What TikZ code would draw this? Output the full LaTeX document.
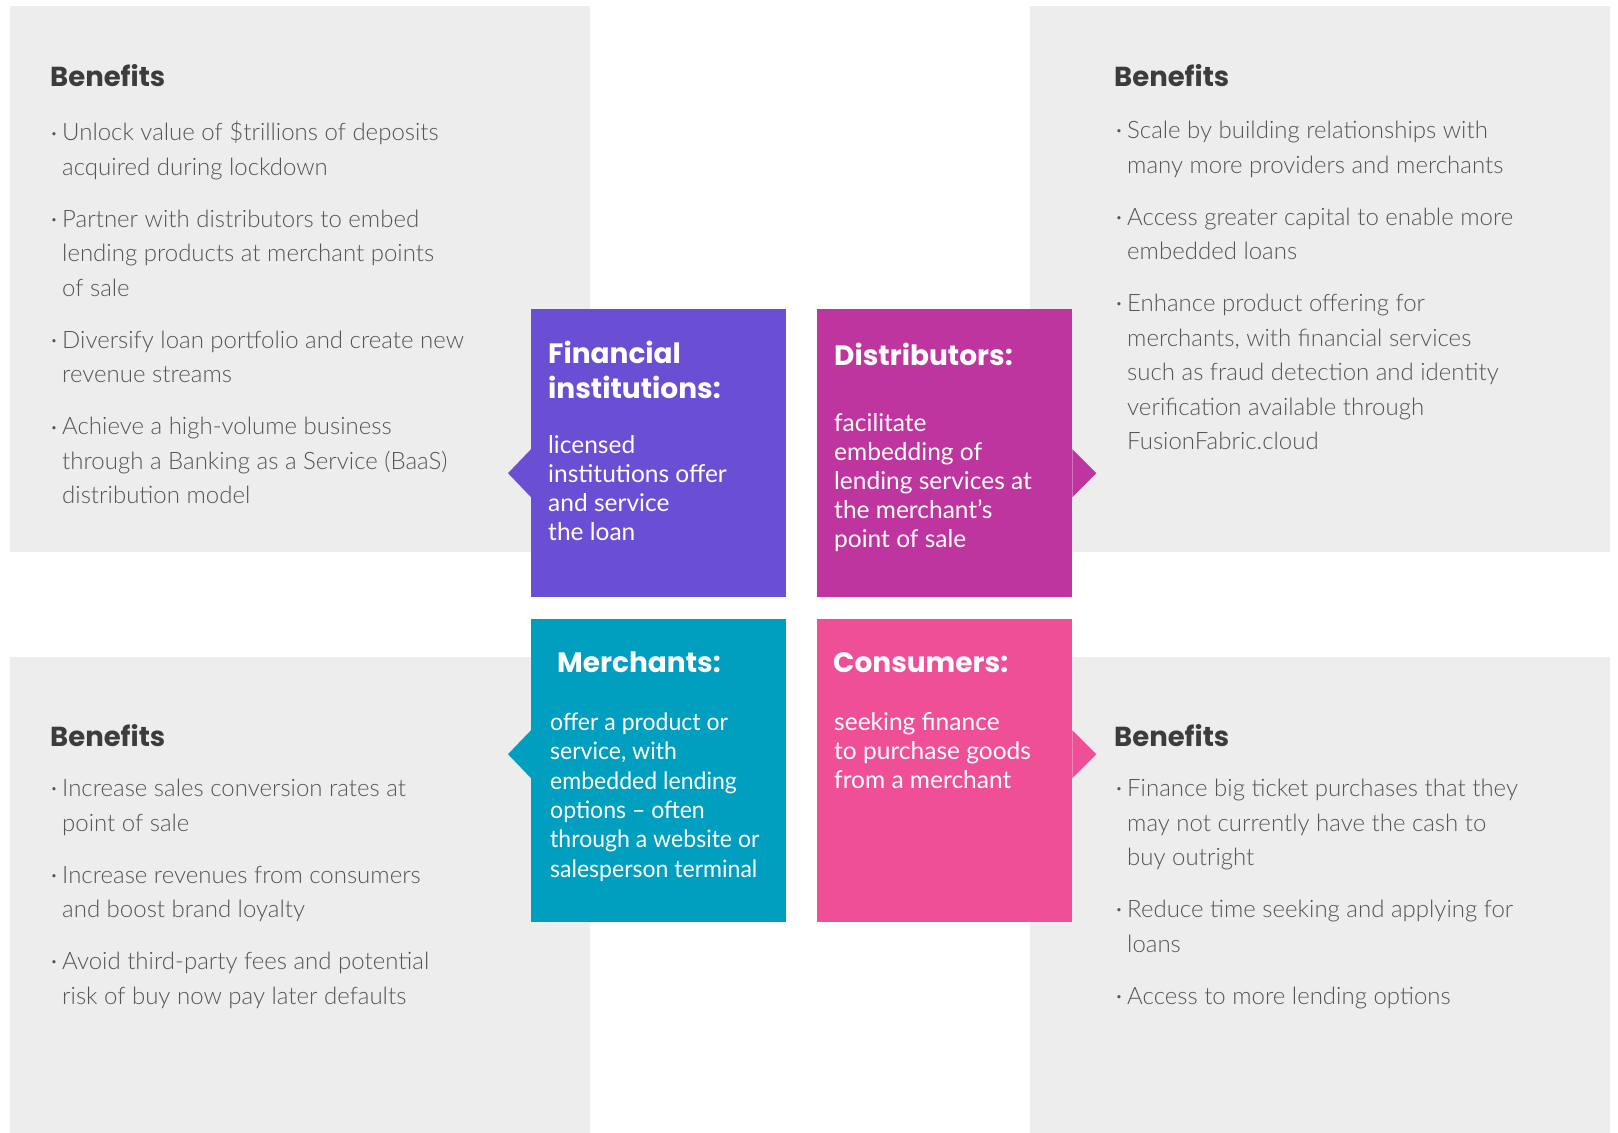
\documentclass[tikz,border=0pt]{standalone}
\usepackage{fontspec}
\usepackage{tikz}
\usetikzlibrary{positioning}
\setmainfont{Lato}
\newfontfamily\headfont{Poppins}
\newfontfamily\bodyfont{Lato Light}
\newfontfamily\condfont{Lato}[FakeStretch=0.96]

\definecolor{panelgrey}{HTML}{EDEDED}
\definecolor{headgrey}{HTML}{3C3C3C}
\definecolor{bodygrey}{HTML}{555555}
\definecolor{fincol}{HTML}{6A4FD4}
\definecolor{distcol}{HTML}{BF359F}
\definecolor{merchcol}{HTML}{009EBF}
\definecolor{conscol}{HTML}{EF4F96}

% small bullet hung left of each benefit
\newcommand{\itemdot}{\llap{\raisebox{0.3ex}{\fontsize{11}{11}\selectfont\textbullet}\hspace{5pt}}}

\begin{document}
\begin{tikzpicture}[%
    x=1pt,
    y=-1pt,
    panel/.style={%
      fill=panelgrey,
      inner sep=0pt,
      anchor=north west,
      minimum width=580pt
    },
    tile/.style={%
      inner sep=0pt,
      anchor=north west,
      minimum width=255pt
    },
    benhead/.style={%
      font=\headfont\bfseries\fontsize{27.5}{35}\selectfont,
      text=headgrey,
      inner sep=0pt,
      anchor=base west
    },
    benlist/.style={%
      font=\bodyfont\fontsize{24}{34.5}\selectfont,
      text=bodygrey,
      align=left,
      inner sep=0pt,
      anchor=north west,
      execute at begin node=\strut
    },
    tilehead/.style={%
      font=\headfont\bfseries\fontsize{28}{35}\selectfont,
      text=white,
      align=left,
      inner sep=0pt,
      anchor=north west,
      execute at begin node=\strut
    },
    tiletext/.style={%
      font=\fontsize{24.5}{29}\selectfont,
      text=white,
      align=left,
      inner sep=0pt,
      anchor=north west,
      execute at begin node=\strut
    }
  ]
    \useasboundingbox (0,0) rectangle (1618,1133);

    % grey benefit panels
    \node[panel, minimum height=546pt] (tlpanel) at (10,6)    {};
    \node[panel, minimum height=546pt] (trpanel) at (1030,6)  {};
    \node[panel, minimum height=476pt] (blpanel) at (10,657)  {};
    \node[panel, minimum height=476pt] (brpanel) at (1030,657) {};

    % coloured tiles
    \node[tile, fill=fincol,   minimum height=288pt] (fin)   at (531,309) {};
    \node[tile, fill=distcol,  minimum height=288pt] (dist)  at (817,309) {};
    \node[tile, fill=merchcol, minimum height=303pt] (merch) at (531,619) {};
    \node[tile, fill=conscol,  minimum height=303pt] (cons)  at (817,619) {};

    % pointers towards the panels
    \fill[fincol]   ([yshift=4pt]fin.west)     -- ++(-23,24) -- ++(23,24) -- cycle;
    \fill[distcol]  ([yshift=4pt]dist.east)    -- ++(24,24)  -- ++(-24,24) -- cycle;
    \fill[merchcol] ([yshift=40.5pt]merch.west) -- ++(-23,24) -- ++(23,24) -- cycle;
    \fill[conscol]  ([yshift=40.5pt]cons.east)  -- ++(24,24)  -- ++(-24,24) -- cycle;

    % tile texts (y = first baseline - strut height)
    \node[tilehead] (finhead)   at (548,340.5) {Financial\\institutions:};
    \node[tiletext] (fintext)   at (548,435.7) {licensed\\institutions offer\\and service\\the loan};
    \node[tilehead] (disthead)  at (834,340.5) {Distributors:};
    \node[tiletext] (disttext)  at (834,413.7) {facilitate\\embedding of\\lending services at\\the merchant’s\\point of sale};
    \node[tilehead] (merchhead) at (557,647.5) {Merchants:};
    \node[tiletext, font=\condfont\fontsize{24}{29.4}\selectfont] (merchtext) at (550,712.4)
      {offer a product or\\service, with\\embedded lending\\options – often\\through a website or\\salesperson terminal};
    \node[tilehead] (conshead)  at (833,647.5) {Consumers:};
    \node[tiletext] (constext)  at (834,712.7) {seeking finance\\to purchase goods\\from a merchant};

    % benefits
    \node[benhead] (tlhead) at (50,86)    {Benefits};
    \node[benhead] (trhead) at (1114,86)  {Benefits};
    \node[benhead] (blhead) at (50,746)   {Benefits};
    \node[benhead] (brhead) at (1114,746) {Benefits};

    \node[benlist] (tllist) at (62,120.9) {%
      \itemdot Unlock value of \$trillions of deposits\\
      acquired during lockdown\\[17.5pt]
      \itemdot Partner with distributors to embed\\
      lending products at merchant points\\
      of sale\\[17.5pt]
      \itemdot Diversify loan portfolio and create new\\
      revenue streams\\[17.5pt]
      \itemdot Achieve a high-volume business\\
      through a Banking as a Service (BaaS)\\
      distribution model};
    \node[benlist] (trlist) at (1127,120.9) {%
      \itemdot Scale by building relationships with\\
      many more providers and merchants\\[17.5pt]
      \itemdot Access greater capital to enable more\\
      embedded loans\\[17.5pt]
      \itemdot Enhance product offering for\\
      merchants, with financial services\\
      such as fraud detection and identity\\
      verification available through\\
      FusionFabric.cloud};
    \node[benlist] (bllist) at (62,778.9) {%
      \itemdot Increase sales conversion rates at\\
      point of sale\\[17.5pt]
      \itemdot Increase revenues from consumers\\
      and boost brand loyalty\\[17.5pt]
      \itemdot Avoid third-party fees and potential\\
      risk of buy now pay later defaults};
    \node[benlist] (brlist) at (1127,778.9) {%
      \itemdot Finance big ticket purchases that they\\
      may not currently have the cash to\\
      buy outright\\[17.5pt]
      \itemdot Reduce time seeking and applying for\\
      loans\\[17.5pt]
      \itemdot Access to more lending options};
\end{tikzpicture}
\end{document}
